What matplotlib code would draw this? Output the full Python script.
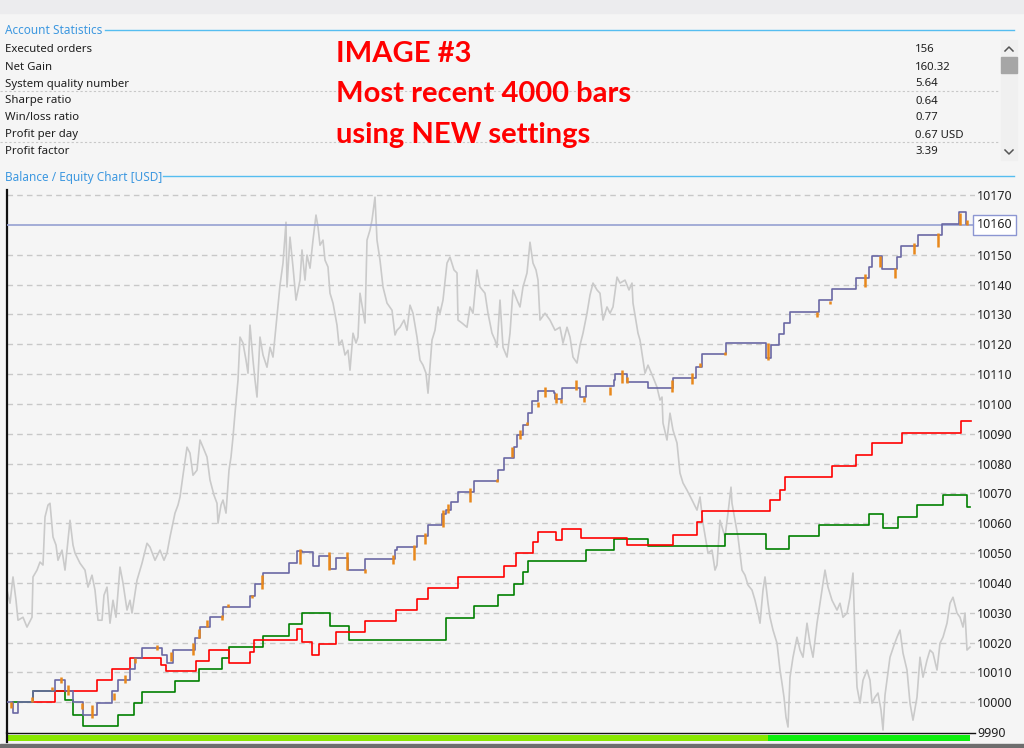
import matplotlib
matplotlib.use("Agg")
import matplotlib.pyplot as plt
from matplotlib.lines import Line2D
from matplotlib.patches import Rectangle
from matplotlib.transforms import blended_transform_factory

plt.rcParams["font.family"] = ["Noto Sans", "DejaVu Sans"]

W, H = 1024, 748

# --- account statistics ---
stat_names = ["Executed orders", "Net Gain", "System quality number", "Sharpe ratio",
              "Win/loss ratio", "Profit per day", "Profit factor"]
stat_values = ["156", "160.32", "5.64", "0.64", "0.77", "0.67 USD", "3.39"]
headline = ["IMAGE #3", "Most recent 4000 bars", "using NEW settings"]

# --- balance (step changes: bar position, value) ---
bal_x = [7, 13, 18, 33, 55, 65, 73, 83, 97, 112, 118, 130, 135, 142, 162, 167, 173, 195, 200,
         210, 223, 250, 255, 263, 289, 297, 302, 313, 319, 330, 336, 348, 365, 395, 397, 417,
         428, 442, 446, 451, 458, 474, 498, 504, 514, 517, 523, 528, 532, 538, 554, 555, 562,
         580, 586, 614, 615, 627, 648, 673, 696, 702, 726, 766, 771, 779, 784, 790, 819, 832,
         856, 869, 872, 882, 897, 901, 918, 942, 959, 966, 967]
bal_v = [10000, 9996.3, 10000, 10003.7, 10007.4, 10003.7, 10000, 9995.9, 9999.6, 10003.7,
         10007.4, 10011.1, 10014.7, 10018.2, 10016, 10013, 10017.5, 10021.4, 10025.1, 10028.6,
         10031.8, 10035.5, 10039.5, 10043.2, 10046.7, 10050.6, 10050.4, 10045.6, 10049.1,
         10044.8, 10048.5, 10044.3, 10047.9, 10051, 10051.9, 10055.7, 10059.3, 10063, 10064.6,
         10067, 10070.5, 10074.2, 10078, 10082, 10085.6, 10089.6, 10093.1, 10097.1, 10100.9,
         10104.4, 10103.5, 10101.8, 10105.4, 10102.4, 10106.1, 10108, 10109.9, 10107.4,
         10105.2, 10108.8, 10112.5, 10116.6, 10120.3, 10115.5, 10119.7, 10123.3, 10127,
         10130.9, 10134.8, 10138.5, 10142.1, 10146, 10149.6, 10145.1, 10149.1, 10152.9,
         10156.6, 10160.3, 10164.2, 10160.2, 10160.2]

# --- red comparison curve ---
red_x = [33, 55, 97, 112, 130, 161, 166, 196, 209, 229, 250, 254, 297, 302, 312, 319, 336, 365,
         396, 417, 428, 458, 504, 516, 533, 538, 556, 562, 581, 627, 673, 697, 702, 770, 780,
         785, 832, 856, 872, 902, 961, 971]
red_v = [10000, 10003.7, 10007.4, 10011.1, 10014.9, 10012.4, 10010.4, 10013.8, 10017.5,
         10013.3, 10016.9, 10020.8, 10024.5, 10020.1, 10015.8, 10019.5, 10023.4, 10027.2,
         10030.9, 10034.6, 10038.4, 10042, 10045.7, 10049.9, 10053.6, 10057.1, 10054.3,
         10058.2, 10054.9, 10052.6, 10056.2, 10060.3, 10064.1, 10067.7, 10071.3, 10075.6,
         10079.3, 10082.9, 10086.8, 10090.4, 10094.3, 10094.3]

# --- green comparison curve ---
grn_x = [13, 33, 65, 73, 83, 118, 134, 142, 175, 199, 222, 229, 263, 289, 302, 330, 349, 446,
         474, 498, 514, 523, 528, 586, 614, 648, 725, 766, 789, 819, 869, 883, 898, 917, 943,
         967, 970]
grn_v = [10000, 10003.7, 10000.7, 9995.9, 9992, 9995.7, 9999.6, 10003.3, 10007.1, 10011,
         10014.7, 10018.4, 10022.2, 10026.1, 10029.8, 10025.5, 10020.8, 10028.4, 10032.2,
         10035.9, 10039.5, 10043.5, 10047.3, 10051, 10054.7, 10052.3, 10056.3, 10051.5,
         10055.7, 10059.4, 10063, 10058.5, 10062.2, 10066.1, 10069.6, 10065.3, 10065.3]

# --- equity excursions (bar, low, high) ---
eq_x = [11, 32, 52, 61, 68, 82, 92, 114, 125, 135, 157, 171, 193, 199, 207, 222, 228, 252, 262,
        300, 329, 347, 365, 393, 414, 425, 443, 448, 470, 497, 512, 520, 527, 538, 545, 556,
        561, 576, 584, 610, 622, 627, 672, 692, 700, 725, 768, 817, 830, 865, 880, 895, 914,
        938, 960, 967]
eq_lo = [9998.2, 10000, 10004, 10006.3, 10002.4, 9997.9, 9994.6, 10000.7, 10006.3, 10013,
         10017.5, 10014, 10015.8, 10021.4, 10025.3, 10027.5, 10031.8, 10034.8, 10038.1,
         10046.5, 10044.3, 10044.3, 10043.4, 10046.5, 10047.6, 10053.2, 10058.8, 10063.3,
         10067.2, 10073.9, 10082.3, 10088.4, 10092.9, 10099.1, 10102.4, 10100.2, 10100.2,
         10104.6, 10100.7, 10103, 10106.9, 10106.9, 10104.1, 10106.6, 10112.5, 10116.4,
         10114.7, 10129.2, 10133.5, 10139.3, 10146, 10142.1, 10150.4, 10152.7, 10159.9, 10159.9]
eq_hi = [10000, 10001.8, 10005.2, 10008.5, 10005.7, 9999.6, 9999, 10003, 10009.1, 10014.7,
         10019.1, 10016.9, 10019.7, 10024.7, 10027.5, 10029.2, 10033.1, 10035.9, 10042.6,
         10051.5, 10050.4, 10050.4, 10044.8, 10049.3, 10052.7, 10056.6, 10064.4, 10066.6,
         10071.7, 10075, 10085.6, 10091.2, 10094, 10100.7, 10105.7, 10103.5, 10101.8, 10108,
         10102.4, 10105.7, 10111.3, 10109.1, 10108, 10110.2, 10113.6, 10117.5, 10120.3,
         10130.9, 10134.6, 10143.7, 10149.6, 10145.4, 10153.8, 10157.2, 10163.9, 10161.6]

# --- underlying price (scaled onto the same axis) ---
px_x = [7, 10, 13, 16, 18, 23, 27, 32, 33, 37, 40, 43, 45, 48, 50, 53, 56, 58, 62, 65, 70, 73,
        75, 80, 85, 88, 92, 95, 98, 102, 104, 107, 110, 113, 116, 120, 123, 127, 130, 132, 137,
        142, 147, 150, 155, 160, 164, 167, 170, 175, 178, 180, 183, 187, 190, 193, 197, 200,
        203, 207, 210, 214, 217, 218, 221, 223, 226, 229, 231, 233, 235, 238, 240, 243, 246,
        248, 250, 253, 255, 257, 260, 263, 267, 270, 273, 277, 280, 283, 286, 287, 290, 293,
        296, 300, 302, 305, 307, 310, 313, 316, 318, 320, 323, 325, 328, 330, 333, 337, 339,
        342, 345, 348, 350, 353, 356, 358, 360, 365, 367, 370, 372, 375, 377, 380, 383, 387,
        392, 395, 397, 400, 404, 407, 410, 413, 417, 420, 423, 426, 428, 432, 435, 438, 440,
        443, 447, 450, 454, 457, 458, 462, 467, 470, 473, 477, 480, 485, 488, 492, 495, 497,
        500, 503, 507, 510, 513, 517, 520, 523, 527, 530, 533, 536, 538, 540, 545, 550, 555,
        560, 563, 567, 570, 573, 577, 580, 583, 587, 590, 593, 597, 600, 603, 607, 610, 613,
        617, 620, 625, 629, 632, 633, 638, 640, 643, 645, 648, 653, 657, 660, 662, 663, 667,
        670, 673, 677, 680, 683, 687, 692, 697, 700, 703, 708, 712, 715, 717, 720, 725, 728,
        731, 732, 735, 738, 740, 742, 745, 748, 752, 755, 758, 760, 763, 765, 768, 770, 773,
        777, 780, 782, 784, 786, 788, 790, 793, 797, 800, 803, 807, 810, 813, 817, 820, 825,
        828, 832, 837, 840, 843, 847, 850, 853, 855, 857, 860, 863, 867, 870, 872, 875, 878,
        881, 883, 885, 887, 890, 894, 897, 900, 903, 907, 910, 913, 917, 920, 923, 927, 930,
        933, 937, 940, 943, 947, 950, 953, 957, 960, 963, 965, 967, 970]
px_v = [10037.6, 10033.2, 10042.0, 10034.2, 10027.5, 10028.5, 10025.2, 10028.5, 10042.0,
        10044.3, 10047.0, 10046.0, 10062.1, 10066.1, 10066.7, 10055.4, 10052.7, 10047.6,
        10051.0, 10044.3, 10061.0, 10052.7, 10050.0, 10046.6, 10044.3, 10038.6, 10042.6,
        10037.6, 10027.5, 10027.5, 10035.9, 10038.6, 10026.5, 10034.2, 10028.5, 10045.3,
        10040.0, 10030.9, 10034.2, 10029.9, 10040.9, 10046.6, 10053.3, 10052.0, 10047.6,
        10051.0, 10047.6, 10050.0, 10055.4, 10063.4, 10066.1, 10068.8, 10076.1, 10085.5,
        10083.5, 10076.1, 10077.8, 10087.9, 10085.5, 10082.2, 10074.5, 10069.4, 10066.7,
        10060.0, 10066.1, 10067.8, 10063.4, 10077.8, 10082.2, 10088.9, 10096.9, 10108.0,
        10122.4, 10120.4, 10114.7, 10110.3, 10126.4, 10114.7, 10108.0, 10102.3, 10122.4,
        10116.4, 10112.3, 10119.0, 10115.7, 10129.4, 10139.8, 10147.2, 10160.9, 10139.2,
        10155.9, 10145.9, 10134.8, 10141.5, 10151.6, 10141.5, 10149.9, 10145.5, 10154.9,
        10163.3, 10159.3, 10153.2, 10154.9, 10148.2, 10145.9, 10137.1, 10133.8, 10126.4,
        10119.7, 10121.4, 10116.4, 10118.0, 10111.3, 10123.7, 10120.4, 10122.4, 10137.1,
        10127.1, 10154.9, 10158.3, 10161.6, 10169.3, 10154.9, 10148.2, 10139.2, 10133.8,
        10131.4, 10123.1, 10124.7, 10125.7, 10128.1, 10124.7, 10133.1, 10130.4, 10122.4,
        10114.7, 10113.0, 10110.3, 10103.6, 10121.4, 10124.7, 10132.5, 10130.4, 10134.8,
        10147.2, 10149.2, 10144.9, 10143.9, 10128.1, 10127.1, 10125.7, 10132.5, 10130.4,
        10144.9, 10139.2, 10137.1, 10130.4, 10123.7, 10121.4, 10119.0, 10134.8, 10119.0,
        10115.7, 10123.7, 10138.2, 10134.8, 10132.5, 10139.2, 10143.9, 10154.2, 10147.2,
        10144.9, 10141.5, 10128.1, 10130.4, 10128.1, 10124.7, 10125.7, 10120.4, 10125.7,
        10122.4, 10115.7, 10113.7, 10119.7, 10123.7, 10130.4, 10136.5, 10140.5, 10138.2,
        10137.1, 10128.1, 10132.5, 10130.4, 10132.5, 10142.5, 10140.5, 10141.5, 10138.2,
        10140.5, 10133.8, 10123.7, 10121.4, 10114.7, 10110.3, 10113.0, 10109.0, 10105.6,
        10101.3, 10102.3, 10093.6, 10087.9, 10096.9, 10091.2, 10086.9, 10076.8, 10073.5,
        10071.1, 10067.8, 10064.4, 10068.8, 10060.0, 10050.0, 10051.0, 10044.3, 10046.0,
        10061.0, 10055.4, 10063.4, 10072.1, 10066.7, 10061.0, 10055.4, 10050.0, 10044.3,
        10042.6, 10039.3, 10037.6, 10034.2, 10029.9, 10026.5, 10037.6, 10042.0, 10033.2,
        10028.5, 10024.2, 10019.8, 10010.8, 10006.4, 10001.7, 9995.0, 9991.7, 10008.4,
        10015.1, 10021.8, 10017.5, 10015.1, 10026.5, 10019.8, 10015.1, 10026.5, 10033.2,
        10044.3, 10038.6, 10034.2, 10030.9, 10033.2, 10028.5, 10029.9, 10035.2, 10043.3,
        10022.2, 10005.1, 9999.7, 10007.4, 10010.8, 10007.4, 9999.7, 10001.7, 10003.1, 9997.4,
        9990.7, 10002.4, 10007.4, 10015.1, 10019.1, 10021.8, 10024.2, 10016.5, 10010.8,
        9999.7, 9994.0, 10001.7, 10015.1, 10008.4, 10014.1, 10017.5, 10016.5, 10010.8,
        10019.8, 10021.8, 10026.5, 10033.2, 10035.2, 10029.9, 10028.5, 10025.2, 10029.9,
        10017.5, 10018.5]

current_level = 10160
y_ticks = [9990, 10000, 10010, 10020, 10030, 10040, 10050, 10060, 10070, 10080, 10090,
           10100, 10110, 10120, 10130, 10140, 10150, 10170]

# status strip under the chart
strip_start = [7, 768]
strip_end = [768, 970]
strip_color = ["#88e800", "#0def0d"]

BG = "#f5f5f5"
TXT = "#1e1e1e"
HEAD = "#3d98e0"
HEADLINE = "#55bdf0"

fig = plt.figure(figsize=(W / 100, H / 100), dpi=100, facecolor=BG)


def fx(x):
    return x / W


def fy(y):
    return 1 - y / H


# top window strip
fig.patches.append(Rectangle((0, fy(13)), 1, 13 / H, transform=fig.transFigure,
                             color="#ececee", zorder=0))
# bottom dark strip
fig.patches.append(Rectangle((0, 0), 1, 4 / H, transform=fig.transFigure,
                             color="#6e6e6e", zorder=0))

# section headers
fig.text(fx(5), fy(31), "Account Statistics", color=HEAD, fontsize=8.5, va="center")
fig.add_artist(Line2D([fx(105), fx(1014)], [fy(30), fy(30)], color=HEADLINE, lw=1))
fig.text(fx(5), fy(177), "Balance / Equity Chart [USD]", color=HEAD, fontsize=8.5, va="center")
fig.add_artist(Line2D([fx(163), fx(1014)], [fy(176), fy(176)], color=HEADLINE, lw=1))

for i, (name, val) in enumerate(zip(stat_names, stat_values)):
    yy = 50 + 17 * i
    fig.text(fx(5), fy(yy), name, color=TXT, fontsize=8.2, va="center")
    fig.text(fx(915), fy(yy), val, color=TXT, fontsize=8.2, va="center")
for yy in (91, 142):
    fig.add_artist(Line2D([fx(0), fx(1000)], [fy(yy), fy(yy)], color="#c8c8c8", lw=0.8,
                          ls=(0, (2, 2))))

# scrollbar
fig.patches.append(Rectangle((fx(1001), fy(160)), 16 / W, 120 / H, transform=fig.transFigure,
                             color="#f0f0f0", zorder=1))
fig.patches.append(Rectangle((fx(1001), fy(73)), 16 / W, 16 / H, transform=fig.transFigure,
                             color="#a6a6a6", zorder=2))
fig.add_artist(Line2D([fx(1005), fx(1009), fx(1013)], [fy(51), fy(47), fy(51)],
                      color="#555555", lw=1.1))
fig.add_artist(Line2D([fx(1005), fx(1009), fx(1013)], [fy(150), fy(154), fy(150)],
                      color="#555555", lw=1.1))

# red headline
for i, line in enumerate(headline):
    fig.text(fx(336), fy(54 + 40.5 * i), line, color="#ff0000", fontsize=21,
             fontweight="bold", family=["Lato", "DejaVu Sans"], va="center")

# --- chart axes ---
ax = fig.add_axes([fx(7), fy(733), (975 - 7) / W, (733 - 190) / H])
ax.set_facecolor(BG)
ax.set_xlim(7, 975)
ax.set_ylim(9989.7, 10171.7)

ax.plot(px_x, px_v, color="#cacaca", lw=1.2, zorder=2)
for t in y_ticks:
    if t != 9990:
        ax.axhline(t, color="#c8c8c8", lw=1, ls=(0, (4, 3)), zorder=1)
ax.axhline(current_level, color="#96a0d2", lw=1.2, zorder=3)

ax.step(grn_x, grn_v, where="post", color="#008000", lw=1.2, zorder=4)
ax.step(red_x, red_v, where="post", color="#ff0000", lw=1.2, zorder=5)
ax.step(bal_x, bal_v, where="post", color="#6a68a4", lw=1.2, zorder=6)
ax.vlines(eq_x, eq_lo, eq_hi, color="#e8881c", lw=1.8, zorder=7)

ax.set_xticks([])
ax.yaxis.tick_right()
ax.set_yticks(y_ticks)
ax.set_yticklabels([str(t) for t in y_ticks])
ax.tick_params(axis="y", length=0, pad=1.5, labelsize=9, labelcolor="#222222")
for s in ("top", "right"):
    ax.spines[s].set_visible(False)
ax.spines["left"].set_color("#111111")
ax.spines["left"].set_linewidth(1.6)
ax.spines["bottom"].set_color("#111111")
ax.spines["bottom"].set_linewidth(1.0)

tr = blended_transform_factory(ax.transAxes, ax.transData)
ax.text(1.0015, current_level, str(current_level), transform=tr, va="center", ha="left",
        fontsize=9, color="#222222", clip_on=False,
        bbox=dict(boxstyle="square,pad=0.28", facecolor="white", edgecolor="#8c96d2", lw=1))

# status strip
sx = fig.add_axes([fx(7), fy(741), (975 - 7) / W, 6 / H])
sx.set_xlim(7, 975)
sx.set_ylim(0, 1)
sx.axis("off")
for a, b, c in zip(strip_start, strip_end, strip_color):
    sx.axvspan(a, b, color=c, lw=0)
fig.add_artist(Line2D([fx(6.5), fx(6.5)], [fy(733), fy(742)], color="#111111", lw=1.6))

fig.savefig("out.png", dpi=100, facecolor=BG)
